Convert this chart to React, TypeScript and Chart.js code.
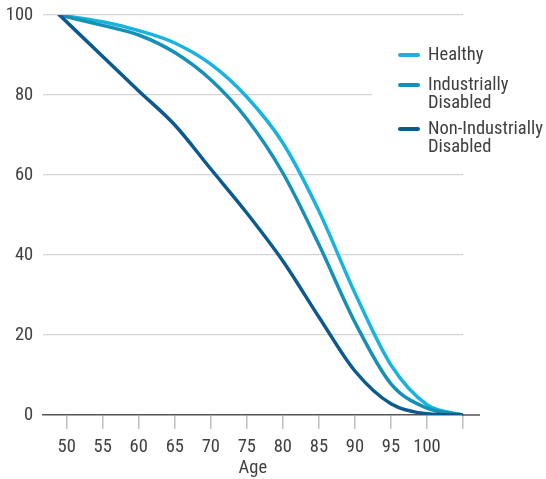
import React, { useEffect, useRef } from "react";
import { Chart, registerables } from "chart.js";

Chart.register(...registerables);

// ---- data ----
const ages = [49, 55, 60, 65, 70, 75, 80, 85, 90, 95, 100, 105];
const healthy = [100, 98.3, 96.1, 93.0, 87.7, 79.5, 68, 51, 30.5, 12.5, 2.6, 0];
const industriallyDisabled = [100, 97.4, 95.0, 90.6, 83.8, 74, 60.5, 42.6, 23.2, 7.8, 1.7, 0];
const nonIndustriallyDisabled = [100, 89.6, 81, 72.5, 61.5, 50.5, 38.5, 24.5, 11, 2.8, 0.3, 0];

const xTickValues = [50, 55, 60, 65, 70, 75, 80, 85, 90, 95, 100, 105];
const xTickLabels = ["50", "55", "60", "65", "70", "75", "80", "85", "90", "95", "100", ""];
const seriesNames = ["Healthy", "Industrially Disabled", "Non-Industrially Disabled"];
const legendLines = [["Healthy"], ["Industrially", "Disabled"], ["Non-Industrially", "Disabled"]];
const xTitle = "Age";

// ---- style ----
const COLORS = ["#18b3de", "#1590b6", "#0a5a8f"];
const FONT = "'Roboto Condensed', 'Liberation Sans Narrow', Roboto, sans-serif";
const TEXT = "#404040";
const FS = 18.5;

const extrasPlugin = {
  id: "extras",
  afterDraw(chart: any) {
    const { ctx, chartArea } = chart;
    ctx.save();
    ctx.strokeStyle = "#555";
    ctx.lineWidth = 1.5;
    ctx.beginPath();
    ctx.moveTo(chartArea.right - 1, chartArea.bottom);
    ctx.lineTo(chartArea.right + 17, chartArea.bottom);
    ctx.stroke();

    ctx.fillStyle = "#ffffff";
    ctx.fillRect(372, 38, 174, 122);
    const itemY = [55, 85, 129];
    const lineH = 18.5;
    ctx.font = `${FS}px ${FONT}`;
    ctx.textBaseline = "middle";
    ctx.textAlign = "left";
    legendLines.forEach((lines, i) => {
      ctx.strokeStyle = COLORS[i];
      ctx.lineWidth = 4;
      ctx.lineCap = "round";
      ctx.beginPath();
      ctx.moveTo(400, itemY[i]);
      ctx.lineTo(418, itemY[i]);
      ctx.stroke();
      ctx.fillStyle = TEXT;
      lines.forEach((t, j) => ctx.fillText(t, 428, itemY[i] + j * lineH));
    });
    ctx.restore();
  },
};

export default function App() {
  const ref = useRef<HTMLCanvasElement | null>(null);

  useEffect(() => {
    if (!ref.current) return;
    const series = [healthy, industriallyDisabled, nonIndustriallyDisabled];
    const chart = new Chart(ref.current, {
      type: "line",
      data: {
        datasets: series.map((s, i) => ({
          label: seriesNames[i],
          data: ages.map((a, k) => ({ x: a, y: s[k] })),
          borderColor: COLORS[i],
          backgroundColor: COLORS[i],
          borderWidth: 3.5,
          pointRadius: 0,
          cubicInterpolationMode: "monotone" as const,
          borderCapStyle: "round" as const,
          fill: false,
          order: 3 - i,
        })),
      },
      options: {
        animation: false,
        responsive: false,
        devicePixelRatio: 1,
        layout: { padding: { left: 0, top: 15, right: 83, bottom: 0 } },
        plugins: { legend: { display: false }, tooltip: { enabled: false } },
        scales: {
          x: {
            type: "linear",
            min: 46.67,
            max: 105,
            afterBuildTicks: (scale: any) => {
              scale.ticks = xTickValues.map((v) => ({ value: v }));
            },
            afterFit: (scale: any) => {
              scale.height = 64;
              scale.paddingLeft = 0;
              scale.paddingRight = 0;
            },
            ticks: {
              autoSkip: false,
              maxRotation: 0,
              padding: 7,
              color: TEXT,
              font: { family: FONT, size: FS },
              callback: (_v: any, i: number) => xTickLabels[i],
            },
            grid: {
              drawOnChartArea: false,
              drawTicks: true,
              tickLength: 14,
              color: "#c0c0c0",
              lineWidth: 1.5,
            },
            border: { display: true, color: "#555", width: 1.5 },
            title: {
              display: true,
              text: xTitle,
              color: TEXT,
              font: { family: FONT, size: FS },
              padding: { top: 0, bottom: 0 },
            },
          },
          y: {
            min: 0,
            max: 100,
            afterFit: (scale: any) => {
              scale.width = 42.7;
              scale.paddingTop = 0;
              scale.paddingBottom = 0;
            },
            ticks: {
              stepSize: 20,
              padding: 9.5,
              color: TEXT,
              font: { family: FONT, size: FS },
            },
            grid: {
              drawTicks: false,
              color: (c: any) => (c.tick && c.tick.value === 0 ? "rgba(0,0,0,0)" : "#d4d4d4"),
              lineWidth: 1.2,
            },
            border: { display: false },
          },
        },
      },
      plugins: [extrasPlugin],
    });
    return () => chart.destroy();
  }, []);

  return (
    <div style={{ position: "absolute", left: 0, top: 0, width: 546, height: 479 }}>
      <canvas ref={ref} width={546} height={479} style={{ display: "block" }} />
    </div>
  );
}
